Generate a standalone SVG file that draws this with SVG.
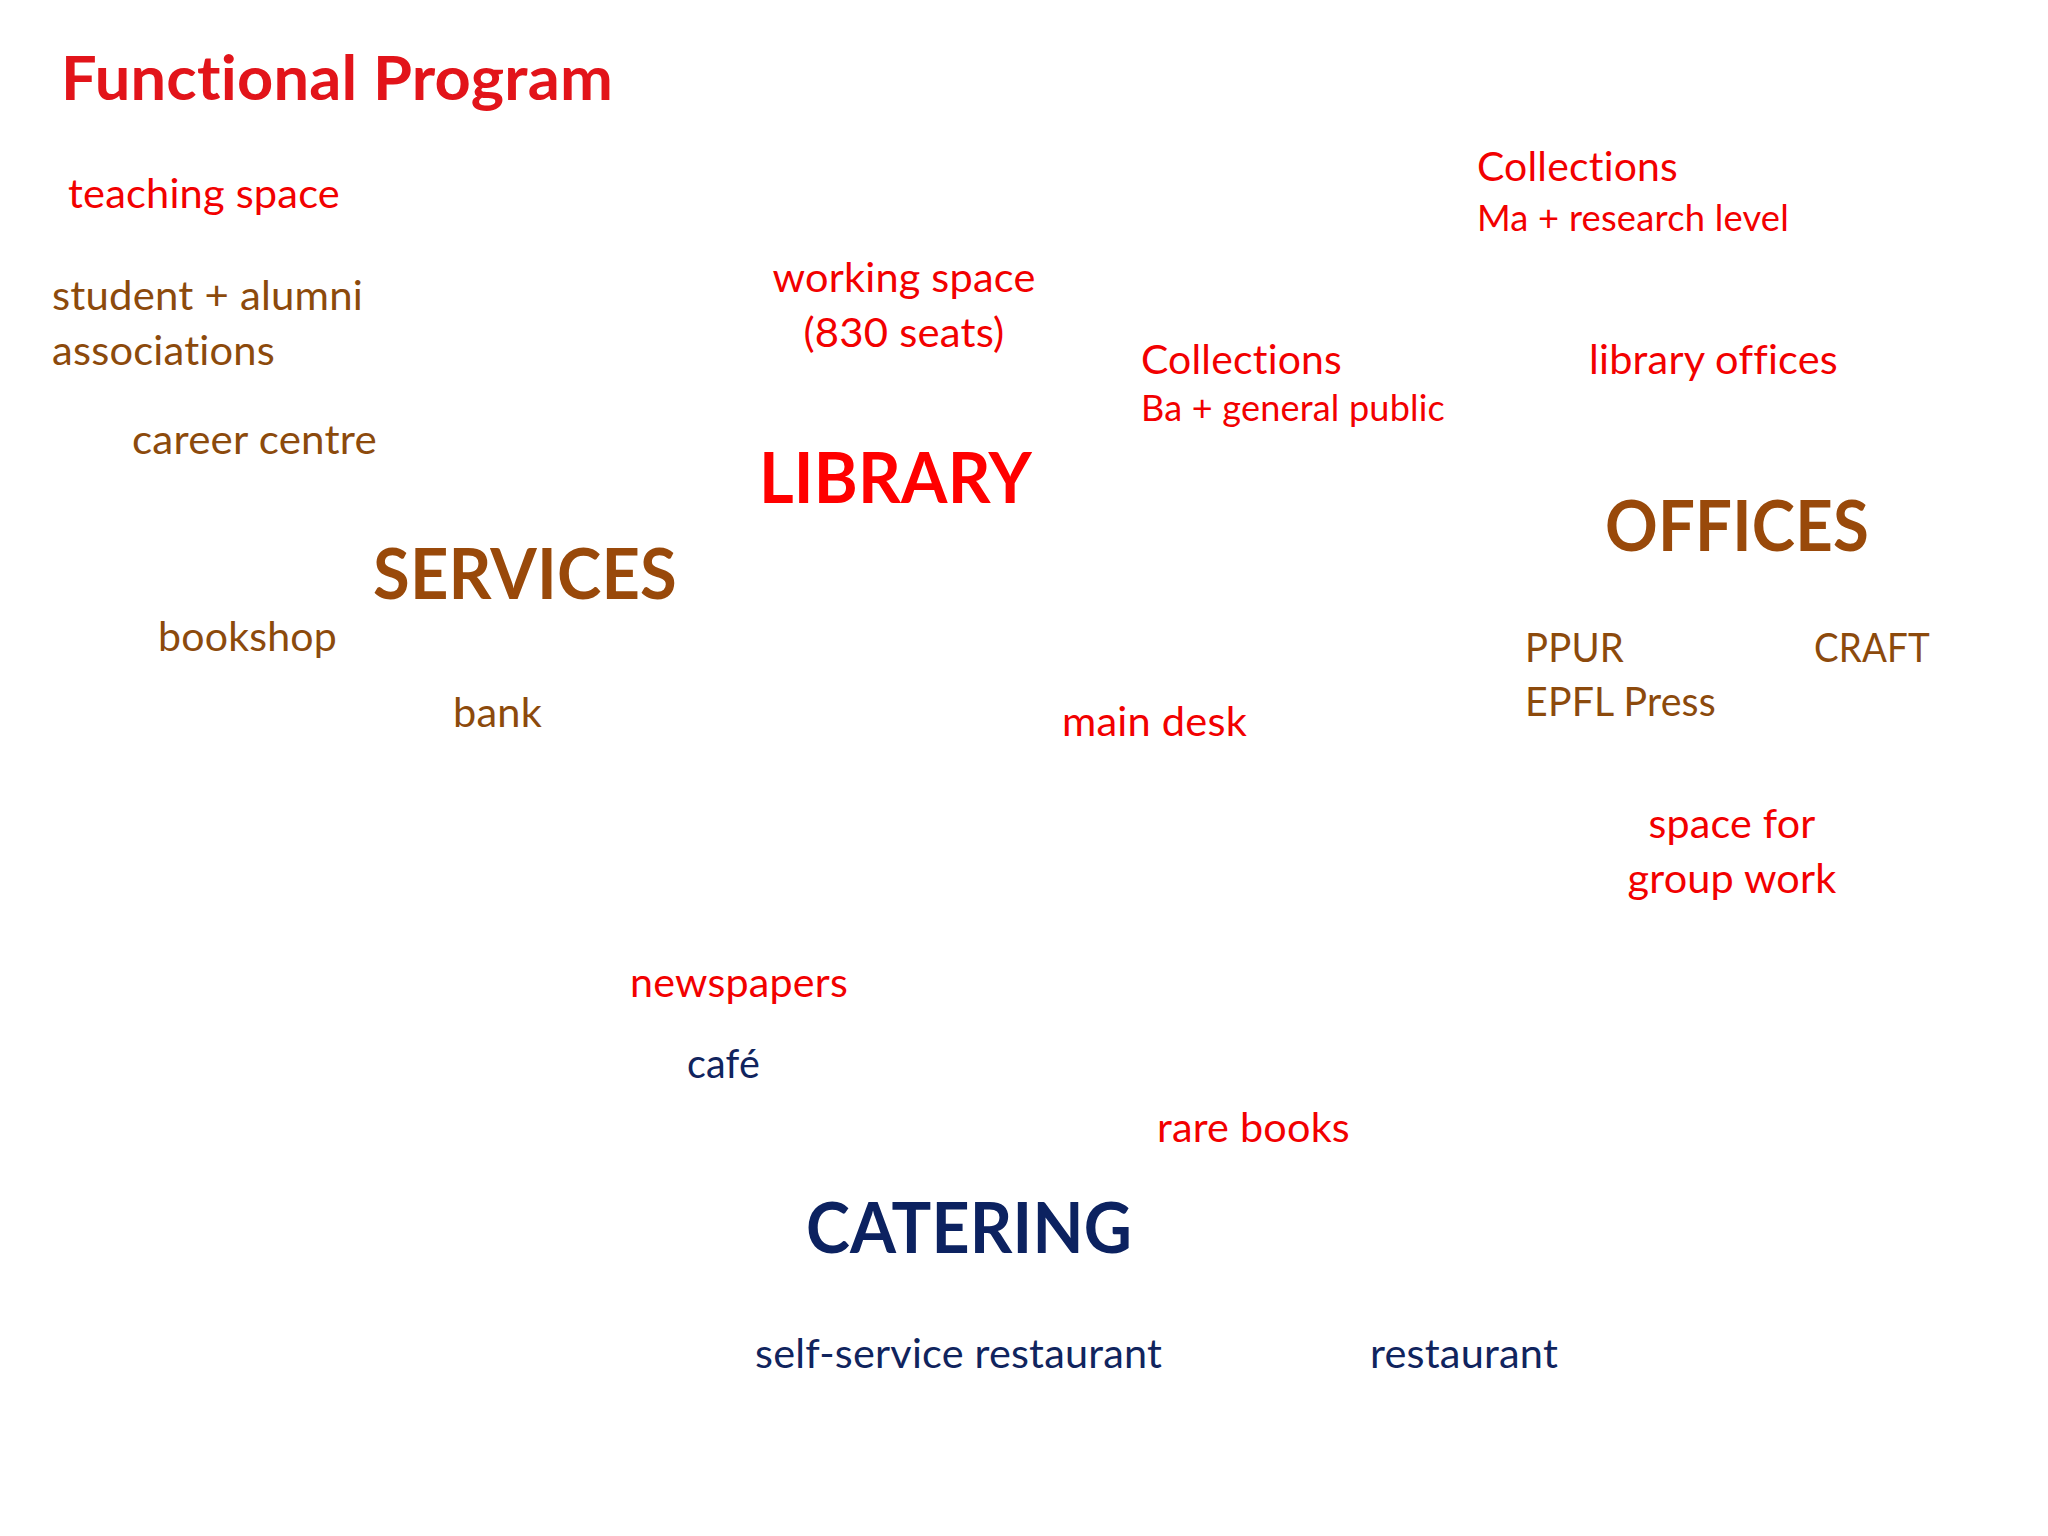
<svg xmlns="http://www.w3.org/2000/svg" width="2048" height="1536" viewBox="0 0 2048 1536">
<style>
text{font-family:Lato,"Noto Sans","Liberation Sans",sans-serif;font-variant-ligatures:none;font-feature-settings:"liga" 0,"clig" 0,"dlig" 0,"calt" 0;letter-spacing:0.2px;}
.t{font-size:61px;font-weight:bold;fill:#E2141A;}
.h{font-size:71px;font-weight:bold;}
.r{font-size:41px;}
.s{font-size:36px;}
.red{fill:#F20000;}
.lib{fill:#FF0000;}
.br{fill:#8C4A0C;}
.brh{fill:#99490A;}
.nv{fill:#10245E;}
.nvh{fill:#0C2260;}
</style>
<rect width="2048" height="1536" fill="#ffffff"/>
<g id="connectors"/>
<g transform="translate(0,2)">
<g id="title"><text class="t" x="61" y="98" textLength="552" lengthAdjust="spacingAndGlyphs">Functional Program</text></g>

<g id="library"><text class="h lib" x="759" y="501" textLength="273" lengthAdjust="spacingAndGlyphs">LIBRARY</text></g>
<g id="teaching-space"><text class="r red" x="68" y="206" textLength="272" lengthAdjust="spacingAndGlyphs">teaching space</text></g>
<g id="working-space">
<text class="r red" x="904" y="290" text-anchor="middle" textLength="263" lengthAdjust="spacingAndGlyphs">working space</text>
<text class="r red" x="904" y="345" text-anchor="middle" textLength="201" lengthAdjust="spacingAndGlyphs">(830 seats)</text>
</g>
<g id="collections-ba">
<text class="r red" x="1141" y="372" textLength="201" lengthAdjust="spacingAndGlyphs">Collections</text>
<text class="s red" x="1141" y="419" textLength="304" lengthAdjust="spacingAndGlyphs">Ba + general public</text>
</g>
<g id="collections-ma">
<text class="r red" x="1477" y="179" textLength="201" lengthAdjust="spacingAndGlyphs">Collections</text>
<text class="s red" x="1477" y="229" textLength="312" lengthAdjust="spacingAndGlyphs">Ma + research level</text>
</g>
<g id="library-offices"><text class="r red" x="1589" y="372" textLength="249" lengthAdjust="spacingAndGlyphs">library offices</text></g>
<g id="main-desk"><text class="r red" x="1062" y="734" textLength="185" lengthAdjust="spacingAndGlyphs">main desk</text></g>
<g id="group-work">
<text class="r red" x="1732" y="836" text-anchor="middle" textLength="167" lengthAdjust="spacingAndGlyphs">space for</text>
<text class="r red" x="1732" y="891" text-anchor="middle" textLength="209" lengthAdjust="spacingAndGlyphs">group work</text>
</g>
<g id="newspapers"><text class="r red" x="630" y="995" textLength="218" lengthAdjust="spacingAndGlyphs">newspapers</text></g>
<g id="rare-books"><text class="r red" x="1157" y="1140" textLength="193" lengthAdjust="spacingAndGlyphs">rare books</text></g>

<g id="services"><text class="h brh" x="373" y="597" textLength="304" lengthAdjust="spacingAndGlyphs">SERVICES</text></g>
<g id="associations">
<text class="r br" x="52" y="308" textLength="311" lengthAdjust="spacingAndGlyphs">student + alumni</text>
<text class="r br" x="52" y="363" textLength="223" lengthAdjust="spacingAndGlyphs">associations</text>
</g>
<g id="career-centre"><text class="r br" x="132" y="452" textLength="245" lengthAdjust="spacingAndGlyphs">career centre</text></g>
<g id="bookshop"><text class="r br" x="158" y="649" textLength="179" lengthAdjust="spacingAndGlyphs">bookshop</text></g>
<g id="bank"><text class="r br" x="453" y="725" textLength="89" lengthAdjust="spacingAndGlyphs">bank</text></g>

<g id="offices"><text class="h brh" x="1605" y="549" textLength="264" lengthAdjust="spacingAndGlyphs">OFFICES</text></g>
<g id="ppur">
<text class="r br" x="1525" y="660" textLength="99" lengthAdjust="spacingAndGlyphs">PPUR</text>
<text class="r br" x="1525" y="714" textLength="191" lengthAdjust="spacingAndGlyphs">EPFL Press</text>
</g>
<g id="craft"><text class="r br" x="1814" y="660" textLength="116" lengthAdjust="spacingAndGlyphs">CRAFT</text></g>

<g id="catering"><text class="h nvh" x="806" y="1251" textLength="326" lengthAdjust="spacingAndGlyphs">CATERING</text></g>
<g id="cafe"><text class="r nv" x="687" y="1076" textLength="73" lengthAdjust="spacingAndGlyphs">café</text></g>
<g id="self-service"><text class="r nv" x="755" y="1366" textLength="407" lengthAdjust="spacingAndGlyphs">self-service restaurant</text></g>
<g id="restaurant"><text class="r nv" x="1370" y="1366" textLength="188" lengthAdjust="spacingAndGlyphs">restaurant</text></g>
</g>
</svg>
